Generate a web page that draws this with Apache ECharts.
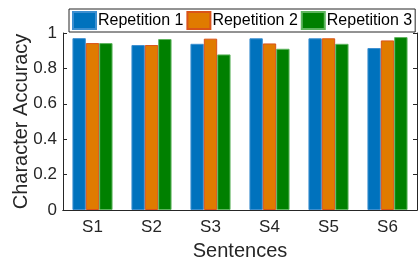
<!DOCTYPE html>
<html>
<head>
<meta charset="utf-8">
<script src="https://cdn.jsdelivr.net/npm/echarts@6/dist/echarts.min.js"></script>
<style>html,body{margin:0;padding:0;background:#fff}#c{width:419px;height:261px}</style>
</head>
<body>
<div id="c"></div>
<script>
const categories = ['S1','S2','S3','S4','S5','S6'];
const rep1 = [0.971, 0.932, 0.939, 0.970, 0.970, 0.915];
const rep2 = [0.943, 0.932, 0.968, 0.941, 0.970, 0.958];
const rep3 = [0.943, 0.966, 0.879, 0.911, 0.939, 0.977];
const seriesNames = ['Repetition 1','Repetition 2','Repetition 3'];
const yTicks = [0, 0.2, 0.4, 0.6, 0.8, 1];

const axisColor = '#262626';
const font = 'Liberation Sans, Arial, sans-serif';
const chart = echarts.init(document.getElementById('c'), null, {renderer:'canvas'});
const colors = ['#0072BD', '#E07B00', '#008000'];
const borders = ['#3d8fd0', '#D95319', '#5fb55f'];
const datas = [rep1, rep2, rep3];
chart.setOption({
  animation: false,
  grid: {left: 63, right: 2, top: 33, bottom: 51, containLabel: false, outerBoundsMode: 'none'},
  legend: {
    left: 69, top: 9, width: 349,
    padding: [2, 3, 2, 3],
    itemGap: 3,
    itemWidth: 23, itemHeight: 17,
    icon: 'rect',
    borderColor: axisColor, borderWidth: 1, backgroundColor: '#fff',
    textStyle: {fontFamily: font, fontSize: 16, color: '#000', padding: [0,0,0,-3]},
    data: seriesNames,
    z: 10
  },
  xAxis: [{
    type: 'category', data: categories,
    name: 'Sentences', nameLocation: 'middle', nameGap: 31, nameMoveOverlap: false,
    nameTextStyle: {fontFamily: font, fontSize: 20, color: axisColor},
    axisLine: {lineStyle: {color: axisColor, width: 1}},
    axisTick: {inside: true, alignWithLabel: true, length: 4, lineStyle: {color: axisColor}},
    axisLabel: {fontFamily: font, fontSize: 17, color: axisColor, margin: 9}
  }, {
    type: 'category', data: categories, position: 'top',
    axisLine: {show: true, lineStyle: {color: axisColor, width: 1}},
    axisTick: {inside: true, alignWithLabel: true, length: 4, lineStyle: {color: axisColor}},
    axisLabel: {show: false}
  }],
  yAxis: [{
    type: 'value', min: yTicks[0], max: yTicks[yTicks.length-1], interval: 0.2,
    name: 'Character Accuracy', nameLocation: 'middle', nameGap: 32, nameMoveOverlap: false,
    nameTextStyle: {fontFamily: font, fontSize: 20, color: axisColor},
    axisLine: {show: true, lineStyle: {color: axisColor, width: 1}},
    axisTick: {show: true, inside: true, length: 4, lineStyle: {color: axisColor}},
    splitLine: {show: false},
    axisLabel: {fontFamily: font, fontSize: 17, color: axisColor, margin: 6,
      formatter: v => String(Math.round(v*10)/10)}
  }, {
    type: 'value', min: yTicks[0], max: yTicks[yTicks.length-1], interval: 0.2, position: 'right',
    axisLine: {show: true, lineStyle: {color: axisColor, width: 1}},
    axisTick: {show: true, inside: true, length: 4, lineStyle: {color: axisColor}},
    splitLine: {show: false},
    axisLabel: {show: false}
  }],
  series: seriesNames.map((n, i) => ({
    name: n, type: 'bar', data: datas[i], xAxisIndex: 0, yAxisIndex: 0,
    barGap: '0%', barCategoryGap: '32%',
    itemStyle: {color: colors[i], borderColor: borders[i], borderWidth: 1}
  }))
});
</script>
</body>
</html>
